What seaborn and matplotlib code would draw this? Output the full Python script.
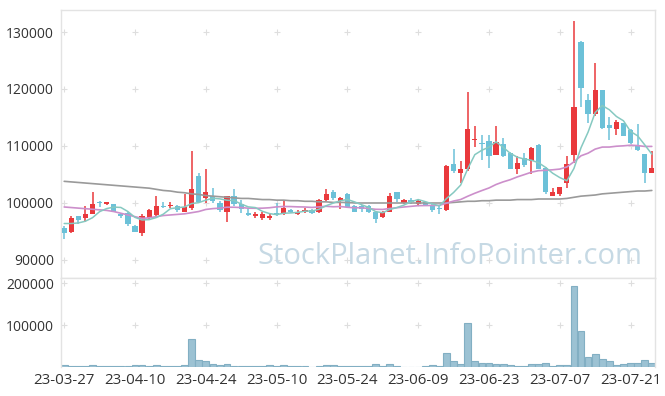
import numpy as np
import pandas as pd
import matplotlib
matplotlib.use("Agg")
import matplotlib.pyplot as plt
import seaborn as sns

sns.set_style("white")
plt.rcParams['font.family'] = ['Open Sans', 'DejaVu Sans']

# tick labels (every 10 trading days)
tick_labels = ['23-03-27', '23-04-10', '23-04-24', '23-05-10', '23-05-24',
               '23-06-09', '23-06-23', '23-07-07', '23-07-21']

# daily OHLC (KRW)
open_ = [95600, 94900, 97800, 97300, 98000, 100200, 99800, 99900, 98100, 98300,
         95900, 94700, 97400, 97900, 99500, 99400, 99400, 98500, 99100, 104700,
         100800, 101200, 100000, 98400, 101300, 99900, 98200, 97700, 97400, 97300,
         98200, 98100, 98700, 98100, 98400, 98800, 98400, 100600, 101900, 100300,
         101500, 99500, 99400, 99400, 98500, 97500, 98500, 101900, 100000, 100600,
         99800, 100100, 99700, 99000, 98700, 106900, 105300, 105900, 111000, 110500,
         110900, 108400, 110400, 108800, 106000, 107900, 107300, 110200, 106100, 101200,
         101600, 103500, 108400, 128200, 118000, 115600, 119900, 113600, 113000, 114000,
         112800, 110100, 108600, 105200]
high = [95900, 97800, 97800, 99400, 101900, 100400, 100200, 99900, 98300, 98400,
        96200, 98100, 98900, 101200, 100100, 100100, 99700, 101600, 109100, 105300,
        106000, 102600, 100300, 101300, 102500, 100600, 99100, 98400, 98500, 98200,
        100000, 100600, 99000, 98800, 99200, 99000, 100700, 102500, 102300, 101100,
        101700, 99600, 99700, 99600, 98600, 98600, 101700, 101900, 100700, 100800,
        100500, 100300, 99800, 99400, 106600, 109500, 107400, 119500, 113500, 112000,
        112000, 113500, 111400, 108900, 108200, 108800, 109900, 110300, 106300, 102700,
        102800, 108200, 131900, 128400, 119100, 124500, 119900, 115100, 114500, 114100,
        112900, 113900, 108600, 109200]
low = [93600, 94700, 96400, 96600, 98000, 99300, 99700, 98400, 97300, 96000,
       94900, 94200, 97100, 97700, 99200, 99100, 98400, 98400, 98800, 100000,
       100000, 100000, 98400, 96700, 99400, 98200, 97700, 97400, 97000, 97100,
       97800, 97900, 98300, 97900, 98200, 98100, 98200, 100400, 100600, 98900,
       99100, 98400, 98400, 98300, 96500, 97300, 98400, 100100, 99900, 99900,
       99700, 99400, 98500, 98100, 98600, 105300, 103500, 105700, 109900, 107600,
       106100, 108400, 108100, 105900, 105100, 106400, 105100, 105900, 101600, 101200,
       101200, 102600, 107000, 116800, 114000, 115300, 113000, 111100, 111900, 111700,
       110400, 109200, 103500, 105200]
close = [94700, 97400, 97100, 98000, 99900, 100000, 100100, 98400, 97700, 96300,
         94900, 97800, 98700, 99500, 99300, 99700, 98700, 99300, 102500, 100100,
         101900, 100400, 98700, 101300, 99800, 98900, 97900, 98100, 98000, 97800,
         98000, 99100, 98400, 98500, 98800, 98200, 100600, 101500, 100800, 100900,
         99300, 98500, 99000, 98400, 97200, 98400, 101300, 100700, 100600, 100100,
         100300, 99500, 98700, 98900, 106500, 105600, 106000, 113000, 111300, 110400,
         108300, 110700, 108200, 106000, 107000, 106600, 109700, 106000, 101900, 101900,
         102800, 106900, 116800, 120100, 115600, 119900, 113100, 113100, 114200, 111800,
         110500, 109300, 105200, 106100]
volume = [4800, 2400, 2400, 2400, 4800, 2400, 2400, 2400, 2400, 2400,
          4800, 4800, 2400, 4800, 2400, 2400, 2400, 4800, 66700, 16700,
          13500, 7100, 4800, 6300, 2400, 2400, 2400, 2400, 2400, 4800,
          2400, 4800, 2400, 2400, 2400, 0, 2400, 4800, 4800, 2400,
          2400, 2400, 2400, 2400, 6300, 2400, 6300, 2400, 0, 0,
          0, 2400, 4800, 2400, 32500, 13500, 6300, 106000, 13500, 8700,
          8700, 6300, 6300, 4800, 2400, 2400, 6300, 6300, 8700, 2400,
          4800, 4800, 192000, 85000, 23000, 30000, 18300, 13500, 4800, 6300,
          8700, 8700, 15900, 8700]

# moving-average values before enough in-window history exists
ma5_head = [96400, 96400, 96500, 96800]
ma20_head = [99300, 99200, 99100, 99000, 98900, 98800, 98700, 98500, 98200, 97900,
             97600, 97300, 97400, 97600, 97800, 97900, 98000, 98100, 98300]
ma120 = [103800, 103700, 103600, 103500, 103400, 103300, 103200, 103100, 103000, 102900,
         102800, 102700, 102600, 102400, 102200, 102100, 101900, 101800, 101600, 101500,
         101300, 101200, 101100, 101000, 100900, 100800, 100800, 100700, 100600, 100600,
         100500, 100500, 100400, 100400, 100300, 100300, 100200, 100200, 100100, 100100,
         100100, 100000, 100000, 100000, 100000, 100000, 100000, 100000, 100000, 100000,
         100000, 100000, 100000, 100000, 100000, 100100, 100200, 100300, 100300, 100400,
         100400, 100500, 100500, 100500, 100600, 100600, 100600, 100700, 100700, 100700,
         100700, 100800, 101000, 101200, 101300, 101400, 101600, 101700, 101800, 101900,
         102000, 102100, 102100, 102200]

df = pd.DataFrame({'open': open_, 'high': high, 'low': low, 'close': close,
                   'volume': volume, 'ma120': ma120})
df['idx'] = np.arange(len(df))
df['ma5'] = df['close'].rolling(5).mean()
df.loc[:len(ma5_head) - 1, 'ma5'] = ma5_head
df['ma20'] = df['close'].rolling(20).mean()
df.loc[:len(ma20_head) - 1, 'ma20'] = ma20_head

RED = '#e9393c'
BLUE = '#6cc1d8'
TXT = '#333333'
EDGE = '#e3e3e3'

fig = plt.figure(figsize=(6.65, 3.96), dpi=100)
ax1 = fig.add_axes([61 / 665, 1 - 278 / 396, 594 / 665, 268 / 396])
ax2 = fig.add_axes([61 / 665, 1 - 367 / 396, 594 / 665, 89 / 396], sharex=ax1)

# candles
up = df['close'] >= df['open']
colors = np.where(up, RED, BLUE)
body_lo = df[['open', 'close']].min(axis=1)
body_h = (df['close'] - df['open']).abs().clip(lower=150)
ax1.vlines(df['idx'], df['low'], df['high'], colors=colors, lw=1.1, zorder=3)
ax1.bar(df['idx'], body_h, bottom=body_lo, width=0.74, color=colors, lw=0, zorder=4)

# moving averages
sns.lineplot(data=df, x='idx', y='ma120', ax=ax1, color='#9a9a9a', lw=1.2, zorder=5)
sns.lineplot(data=df, x='idx', y='ma20', ax=ax1, color='#cc8fcb', lw=1.2, zorder=5)
sns.lineplot(data=df, x='idx', y='ma5', ax=ax1, color='#86c9c1', lw=1.1, zorder=5)

ax1.text(0.655, 0.08, 'StockPlanet.InfoPointer.com', transform=ax1.transAxes,
         ha='center', va='center', fontsize=21, color='#c6d9e4', zorder=1)

# volume
sns.barplot(data=df, x='idx', y='volume', ax=ax2, native_scale=True, color='#9cc2d3',
            saturation=1, width=0.95, edgecolor='#82afc3', linewidth=0.8, errorbar=None)

xt = np.arange(0, len(df), 10)[:len(tick_labels)]
p_ticks = [90000, 100000, 110000, 120000, 130000]
v_ticks = [100000, 200000]

ax1.set_ylim(86840, 133860)
ax2.set_ylim(0, 212000)
ax1.set_xlim(-0.45, 83.45)

ax1.set_yticks(p_ticks)
ax1.set_yticklabels([str(v) for v in p_ticks])
ax2.set_yticks(v_ticks)
ax2.set_yticklabels([str(v) for v in v_ticks])
ax2.set_xticks(xt)
ax2.set_xticklabels(tick_labels)
ax1.tick_params(axis='x', labelbottom=False, length=0)
ax1.tick_params(axis='y', length=0, labelsize=10, colors=TXT, pad=5)
ax2.tick_params(axis='y', length=0, labelsize=10, colors=TXT, pad=5)
ax2.tick_params(axis='x', length=0, labelsize=10.8, colors=TXT, pad=4)

# faint "+" grid marks at tick intersections
for ax, yt in [(ax1, p_ticks), (ax2, v_ticks)]:
    gx, gy = np.meshgrid(xt, yt)
    ax.scatter(gx.ravel(), gy.ravel(), marker='+', s=18, color='#dedede',
               linewidths=0.8, zorder=0)
    ax.set_xlabel('')
    ax.set_ylabel('')
    for sp in ax.spines.values():
        sp.set_color(EDGE)
        sp.set_linewidth(1)
ax2.spines['bottom'].set_visible(False)

fig.savefig('out.png', dpi=100)
